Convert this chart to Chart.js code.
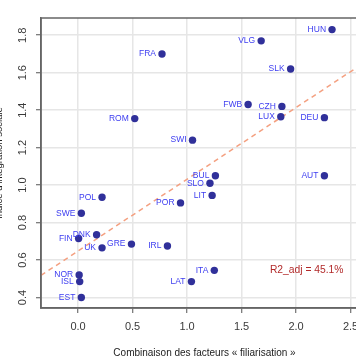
<!DOCTYPE html>
<html><head><meta charset="utf-8">
<script src="https://cdn.jsdelivr.net/npm/chart.js@4.4.0/dist/chart.umd.min.js"></script>
<style>
html,body{margin:0;padding:0;overflow:hidden;background:#fff;width:356px;height:364px}
#wrap{position:absolute;left:-8px;top:0;width:380px;height:364px}
canvas{display:block}
</style></head><body>
<div id="wrap"><canvas id="c" width="380" height="364"></canvas></div>
<script>
const countries = ['HUN','VLG','SLK','FWB','CZH','LUX','DEU','SWI','BUL','AUT','SLO','LIT','POR','ITA','LAT','FRA','ROM','POL','SWE','DNK','FIN','UK','GRE','IRL','NOR','ISL','EST'];
const xValues = [2.33,1.68,1.95,1.56,1.87,1.86,2.26,1.05,1.26,2.26,1.21,1.23,0.94,1.25,1.04,0.77,0.52,0.22,0.03,0.17,0.005,0.22,0.49,0.82,0.01,0.015,0.03];
const yValues = [1.83,1.77,1.62,1.43,1.42,1.365,1.36,1.24,1.05,1.05,1.01,0.945,0.905,0.545,0.485,1.70,1.355,0.935,0.85,0.735,0.715,0.665,0.685,0.675,0.52,0.485,0.40];
const xTicks = [0, 0.5, 1, 1.5, 2, 2.5];
const yTicks = [0.4, 0.6, 0.8, 1.0, 1.2, 1.4, 1.6, 1.8];
const fitLineX = [-0.34, 2.66];
const fitLineY = [0.518, 1.667];
const r2Text = 'R2_adj = 45.1%';
const r2At = [1.76, 0.546];
const xTitle = 'Combinaison des facteurs « filiarisation »';
const yTitle = "Indice d'intégration sociale";

const FAM = "'Liberation Sans', Arial, Helvetica, sans-serif";
const points = xValues.map((x, i) => ({x: x, y: yValues[i]}));
const fitPoints = fitLineX.map((x, i) => ({x: x, y: fitLineY[i]}));

const gridOpts = {color: '#e6e6e6', lineWidth: 1.5, tickLength: 5, tickColor: '#555', tickWidth: 1};
const borderOpts = {display: true, color: '#666', width: 1.5};

const labelPlugin = {
  id: 'labels',
  afterDatasetsDraw(chart) {
    const ctx = chart.ctx;
    const meta = chart.getDatasetMeta(0);
    ctx.save();
    ctx.font = '8.5px ' + FAM;
    ctx.fillStyle = '#3c3cf0';
    ctx.textAlign = 'right';
    ctx.textBaseline = 'middle';
    meta.data.forEach((pt, i) => { ctx.fillText(countries[i], pt.x - 6, pt.y); });
    const xs = chart.scales.x, ys = chart.scales.y;
    ctx.font = '10.3px ' + FAM;
    ctx.fillStyle = '#b22a2a';
    ctx.textAlign = 'left';
    ctx.fillText(r2Text, xs.getPixelForValue(r2At[0]), ys.getPixelForValue(r2At[1]));
    ctx.restore();
  },
  afterDraw(chart) {
    const ctx = chart.ctx, ca = chart.chartArea, ys = chart.scales.y;
    ctx.save();
    ctx.strokeStyle = '#666';
    ctx.lineWidth = 1.5;
    ctx.strokeRect(ca.left, ca.top, ca.right - ca.left, ca.bottom - ca.top);
    ctx.font = '11px ' + FAM;
    ctx.fillStyle = '#3a3a3a';
    ctx.textAlign = 'center';
    ctx.textBaseline = 'middle';
    ys.ticks.forEach(t => {
      const y = ys.getPixelForValue(t.value);
      ctx.save();
      ctx.translate(31, y);
      ctx.rotate(-Math.PI / 2);
      ctx.fillText(t.value.toFixed(1), 0, 0);
      ctx.restore();
    });
    ctx.restore();
  }
};

new Chart(document.getElementById('c'), {
  type: 'scatter',
  data: {
    datasets: [
      {data: points, backgroundColor: '#30309a', borderColor: '#30309a', pointRadius: 3.7, pointHoverRadius: 3.7, borderWidth: 0},
      {type: 'line', data: fitPoints, borderColor: '#f4a080', borderDash: [5, 4], borderWidth: 1.5, pointRadius: 0, fill: false, showLine: true}
    ]
  },
  options: {
    responsive: false,
    animation: false,
    devicePixelRatio: 1,
    events: [],
    layout: {padding: {left: 0, right: 4, top: 18, bottom: 0}},
    plugins: {legend: {display: false}, tooltip: {enabled: false}},
    scales: {
      x: {
        type: 'linear', min: -0.34, max: 2.66,
        afterBuildTicks: s => { s.ticks = xTicks.map(v => ({value: v})); },
        afterFit: s => { s.height = 56; },
        ticks: {font: {size: 11, family: FAM}, color: '#3a3a3a', padding: 7, callback: v => Number(v).toFixed(1)},
        grid: gridOpts, border: borderOpts,
        title: {display: true, text: xTitle, font: {size: 10, family: FAM}, color: '#222', padding: {top: 0, bottom: 5}}
      },
      y: {
        type: 'linear', min: 0.344, max: 1.892,
        afterBuildTicks: s => { s.ticks = yTicks.map(v => ({value: v})); },
        afterFit: s => { s.width = 49; },
        ticks: {display: false},
        grid: gridOpts, border: borderOpts,
        title: {display: true, text: yTitle, font: {size: 9.5, family: FAM}, color: '#222', padding: {top: 1.2, bottom: 0}}
      }
    }
  },
  plugins: [labelPlugin]
});
</script>
</body></html>
